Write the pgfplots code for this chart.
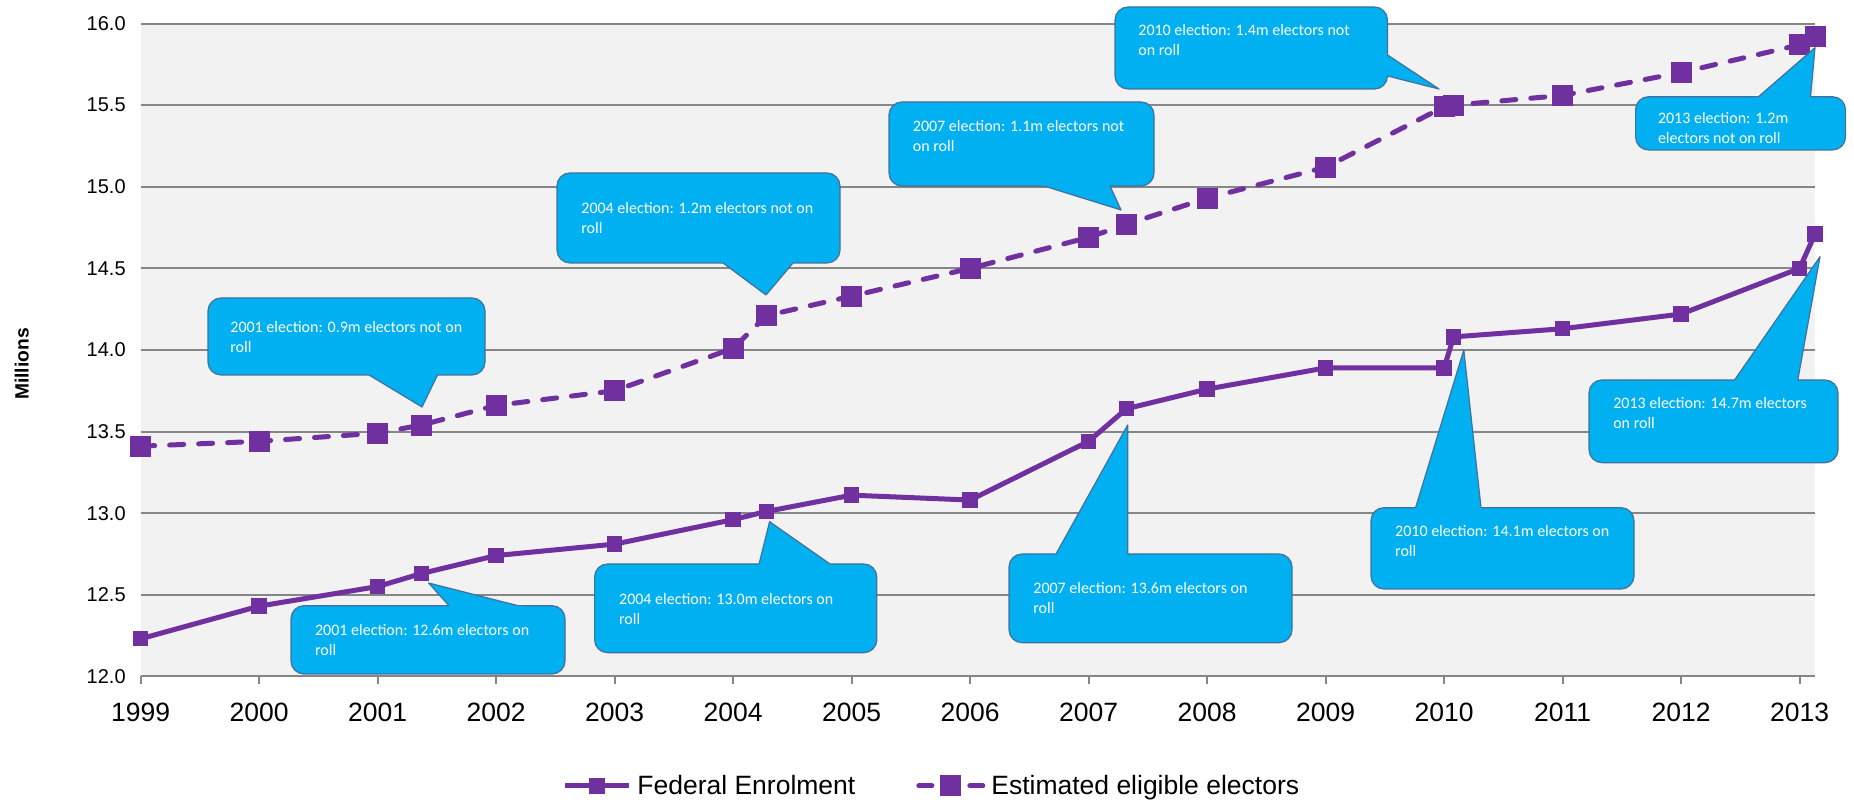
\documentclass[border=0pt]{standalone}
\usepackage{fontspec}
\setmainfont{Liberation Sans}
\newfontfamily\calloutfont{Carlito}
\usepackage{pgfplots}
\pgfplotsset{compat=1.18}
\usetikzlibrary{calc}

\definecolor{epurple}{HTML}{7030A0}
\definecolor{gridgray}{HTML}{868686}
\definecolor{plotbg}{HTML}{F2F2F2}
\definecolor{cfill}{HTML}{00B0F0}
\definecolor{cborder}{HTML}{41719C}

\tikzset{
  ctext/.style={text=white, font=\calloutfont\fontsize{8}{10}\selectfont, inner sep=0pt, anchor=base west},
  cline/.style={draw=cborder, line width=0.6pt, line join=round},
}
\pgfplotsset{
  solidleg/.style={legend image code/.code={%
    \draw[##1,mark repeat=2,mark phase=2] plot coordinates {(0pt,0pt)(16pt,0pt)(32pt,0pt)};}},
  dashleg/.style={legend image code/.code={%
    \draw[##1, solid, mark=none] (0pt,0pt) -- (6.5pt,0pt) (25.5pt,0pt) -- (32pt,0pt);
    \draw[##1, solid] plot[only marks] coordinates {(16pt,0pt)};}},
}

% callout: #1 L, #2 T, #3 R, #4 B, #5 base point 1, #6 tip, #7 base point 2 (pixel units)
\newcommand{\callout}[7]{%
  \draw[cline, fill=cfill, rounded corners=6.5pt] (#1,#2) rectangle (#3,#4);
  \fill[cfill] ($#5!-3pt!#6$) -- #6 -- ($#7!-3pt!#6$) -- cycle;
  \draw[cline] #5 -- #6 -- #7;
}
\newcommand{\ctext}[4]{%
  \node[ctext] at (#1,#2) {#3};
  \node[ctext] at (#1,#2+19.5) {#4};
}

\begin{document}
\begin{tikzpicture}
\begin{axis}[
  at={(70.35pt,62.85pt)}, anchor=south west,
  scale only axis, width=837.15pt, height=326.35pt,
  xmin=1999, xmax=2013.13, ymin=12, ymax=16,
  xtick={1999,2000,...,2013},
  ytick={12,12.5,...,16},
  clip=false,
  axis line style={draw=none},
  axis background/.style={fill=plotbg},
  ymajorgrids,
  major grid style={draw=gridgray, line width=1pt},
  xtick pos=left,
  tick align=outside,
  major tick length=4pt,
  xtick style={draw=gridgray, line width=1pt},
  ytick style={draw=none},
  xticklabel style={font=\fontsize{13.25}{15}\selectfont, yshift=-5.9pt,
    /pgf/number format/1000 sep={}, /pgf/number format/assume math mode=true},
  yticklabel style={font=\fontsize{10}{12}\selectfont,
    /pgf/number format/.cd, fixed, fixed zerofill, precision=1, assume math mode=true},
  ylabel={Millions},
  ylabel style={at={(axis description cs:-0.0710,0.4785)}, anchor=center,
    font=\bfseries\fontsize{9.6}{11}\selectfont},
  legend columns=2,
  legend cell align=left,
  legend style={at={(axis description cs:0.2516,-0.168)}, anchor=west,
    draw=none, fill=none, inner sep=0pt,
    font=\fontsize{13.25}{15}\selectfont,
    /tikz/every odd column/.append style={column sep=1pt},
    /tikz/every even column/.append style={column sep=28.5pt}},
]
% Federal Enrolment
\addplot[epurple, line width=2.5pt, mark=square*, mark size=3.6pt,
  mark options={solid, fill=epurple, draw=epurple, line width=0.5pt}, solidleg]
coordinates {
  (1999,12.23) (2000,12.43) (2001,12.55) (2001.37,12.63) (2002,12.74)
  (2003,12.81) (2004,12.96) (2004.28,13.01) (2005,13.11) (2006,13.08)
  (2007,13.44) (2007.32,13.64) (2008,13.76) (2009,13.89) (2010,13.89)
  (2010.08,14.08) (2011,14.13) (2012,14.22) (2013,14.50) (2013.13,14.71)
};
\addlegendentry{Federal Enrolment}
% Estimated eligible electors
\addplot[epurple, line width=2.5pt, dash pattern=on 7pt off 7.5pt, line cap=round,
  mark=square*, mark size=5pt,
  mark options={solid, fill=epurple, draw=epurple, line width=0.5pt}, dashleg]
coordinates {
  (1999,13.41) (2000,13.44) (2001,13.49) (2001.37,13.54) (2002,13.66)
  (2003,13.75) (2004,14.01) (2004.28,14.21) (2005,14.33) (2006,14.50)
  (2007,14.69) (2007.32,14.77) (2008,14.93) (2009,15.12) (2010,15.49)
  (2010.08,15.50) (2011,15.56) (2012,15.70) (2013,15.87) (2013.13,15.92)
};
\addlegendentry{Estimated eligible electors}
\end{axis}

\begin{scope}[x=0.5pt, y=-0.5pt, shift={(0pt,401pt)}]
  % not on roll
  \callout{208}{298}{485}{375}{(369,375)}{(422,407)}{(437.5,375)}
  \ctext{230}{333}{2001 election: 0.9m electors not on}{roll}
  \callout{557}{173}{840}{263}{(723,263)}{(766,295)}{(793,263)}
  \ctext{581}{214}{2004 election: 1.2m electors not on}{roll}
  \callout{889}{102}{1154}{186}{(1044,186)}{(1121,210)}{(1110,186)}
  \ctext{912.5}{132}{2007 election: 1.1m electors not}{on roll}
  \callout{1115}{7}{1387.5}{89}{(1387.5,55)}{(1439,89)}{(1387.5,76)}
  \ctext{1138}{36}{2010 election: 1.4m electors not}{on roll}
  \callout{1635.6}{96.7}{1845.5}{150}{(1758.5,96.7)}{(1815,47.7)}{(1810.5,96.7)}
  \ctext{1657.6}{124}{2013 election: 1.2m}{electors not on roll}
  % on roll
  \callout{291}{605.7}{565}{674}{(449,605.7)}{(428.6,583)}{(518,605.7)}
  \ctext{314.7}{636}{2001 election: 12.6m electors on}{roll}
  \callout{594.6}{564}{876.8}{652.7}{(759,564)}{(769.6,521.7)}{(830,564)}
  \ctext{618.75}{605}{2004 election: 13.0m electors on}{roll}
  \callout{1009}{554}{1292}{642.7}{(1056,554)}{(1127.7,425)}{(1127.7,554)}
  \ctext{1033}{594}{2007 election: 13.6m electors on}{roll}
  \callout{1371}{507.7}{1634}{589}{(1415.6,507.7)}{(1463.8,350)}{(1481,507.7)}
  \ctext{1394.8}{537}{2010 election: 14.1m electors on}{roll}
  \callout{1589}{380}{1838}{462.7}{(1734.6,380)}{(1820,256.7)}{(1797.8,380)}
  \ctext{1612.9}{409}{2013 election: 14.7m electors}{on roll}
\end{scope}
\pgfresetboundingbox
\path[use as bounding box] (0pt,0pt) rectangle (927pt,401pt);
\end{tikzpicture}
\end{document}
